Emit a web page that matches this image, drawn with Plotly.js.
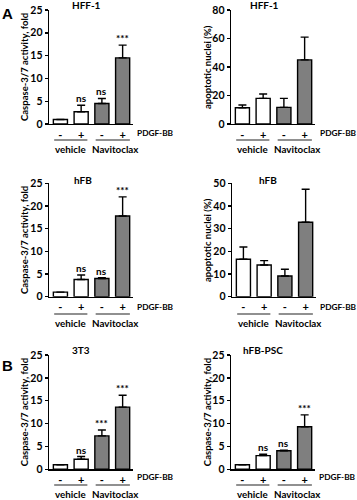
<!DOCTYPE html>
<html>
<head>
<meta charset="utf-8">
<script src="https://cdn.plot.ly/plotly-3.0.1.min.js"></script>
<style>html,body{margin:0;padding:0;background:#fff;}#chart{width:357px;height:500px;}</style>
</head>
<body>
<div id="chart"></div>
<script>
// ---- data ----
const groupTicks = ['-', '+', '-', '+'];
const treatmentLabels = ['vehicle', 'Navitoclax'];
const stimulusLabel = 'PDGF-BB';
const panelLetters = ['A', 'B'];

const titles = ['HFF-1', 'HFF-1', 'hFB', 'hFB', '3T3', 'hFB-PSC'];
const yTitles = ['Caspase-3/7 activity, fold', 'apoptotic nuclei (%)',
                 'Caspase-3/7 activity, fold', 'apoptotic nuclei (%)',
                 'Caspase-3/7 activity, fold', 'Caspase-3/7 activity, fold'];

const hff1Casp = [1.0, 2.7, 4.5, 14.5];
const hff1CaspErr = [0, 1.4, 1.1, 2.8];
const hff1CaspSig = ['', 'ns', 'ns', '***'];

const hff1Apo = [11.4, 18.0, 11.7, 45.0];
const hff1ApoErr = [1.9, 3.0, 6.3, 16.0];
const hff1ApoSig = ['', '', '', ''];

const hfbCasp = [1.0, 3.8, 4.0, 17.8];
const hfbCaspErr = [0, 1.0, 0.2, 4.2];
const hfbCaspSig = ['', 'ns', 'ns', '***'];

const hfbApo = [16.5, 14.0, 9.1, 32.8];
const hfbApoErr = [5.4, 1.9, 3.0, 14.6];
const hfbApoSig = ['', '', '', ''];

const t3Casp = [1.0, 2.2, 7.3, 13.6];
const t3CaspErr = [0, 0.6, 1.3, 2.6];
const t3CaspSig = ['', 'ns', '***', '***'];

const pscCasp = [1.0, 3.0, 4.05, 9.3];
const pscCaspErr = [0, 0.3, 0.15, 2.6];
const pscCaspSig = ['', 'ns', 'ns', '***'];

const yMax = [25, 80, 25, 50, 25, 25];
const yStep = [5, 20, 5, 10, 5, 5];

// ---- layout geometry (pixels) ----
const W = 357, H = 500;
const FONT = 'Lato, Liberation Sans, Arial, sans-serif';
const px = v => v / W;
const py = v => 1 - v / H;

const means = [hff1Casp, hff1Apo, hfbCasp, hfbApo, t3Casp, pscCasp];
const errs = [hff1CaspErr, hff1ApoErr, hfbCaspErr, hfbApoErr, t3CaspErr, pscCaspErr];
const sigs = [hff1CaspSig, hff1ApoSig, hfbCaspSig, hfbApoSig, t3CaspSig, pscCaspSig];

const xDom = [[49, 133], [231, 315], [49, 133], [232, 316], [49, 133], [231, 315]];
const rows = [[10, 124], [183.3, 296.7], [355, 469.3]];
const titleY = [5, 180, 349.5];
const titleX = [86, 264, 82.5, 267.5, 81, 263];
const yTitleX = [24, 207];
const pdgfX = [135, 318, 135, 318, 135, 317];
const tickY = [133, 306.7, 477];
const lineY = [140, 314, 485];
const treatY = [149, 322.7, 494];

const colors = ['#ffffff', '#ffffff', '#7f7f7f', '#7f7f7f'];
const xs = [0, 1, 2, 3];

const data = [];
const layout = {
  width: W, height: H,
  margin: {l: 0, r: 0, t: 0, b: 0},
  paper_bgcolor: '#fff', plot_bgcolor: '#fff',
  showlegend: false,
  annotations: [], shapes: [],
  font: {family: FONT, color: '#000', size: 10, weight: 'bold'}
};

for (let i = 0; i < 6; i++) {
  const n = i + 1;
  const xa = 'x' + n, ya = 'y' + n;
  const xk = 'xaxis' + (n === 1 ? '' : n), yk = 'yaxis' + (n === 1 ? '' : n);
  const r = Math.floor(i / 2), c = i % 2;
  data.push({
    type: 'bar', x: xs, y: means[i], xaxis: xa, yaxis: ya,
    width: 0.68,
    marker: {color: colors, line: {color: '#000', width: 1.4}},
    error_y: {type: 'data', symmetric: false, array: errs[i], arrayminus: [0, 0, 0, 0],
              color: '#000', thickness: 1.4, width: 4},
    hoverinfo: 'none'
  });
  layout[xk] = {
    domain: [px(xDom[i][0]), px(xDom[i][1])],
    range: [-0.55, 3.5], anchor: ya,
    showline: true, linecolor: '#000', linewidth: 1.4,
    showgrid: false, zeroline: false, ticks: '',
    tickvals: xs, ticktext: groupTicks,
    tickfont: {family: FONT, size: 11, weight: 'bold', color: '#000'},
    fixedrange: true
  };
  layout[yk] = {
    domain: [py(rows[r][1]), py(rows[r][0])],
    range: [0, yMax[i]], anchor: xa,
    dtick: yStep[i], tick0: 0,
    showline: true, linecolor: '#000', linewidth: 1.4,
    ticks: 'outside', ticklen: 3, tickwidth: 1.4, tickcolor: '#000',
    showgrid: false, zeroline: false,
    tickfont: {family: FONT, size: 10.5, weight: 'bold', color: '#000'},
    fixedrange: true
  };
  for (let k = 0; k < 4; k++) {
    if (sigs[i][k]) {
      layout.annotations.push({
        xref: xa, yref: ya, x: xs[k], y: means[i][k] + errs[i][k],
        text: sigs[i][k], showarrow: false, yanchor: 'bottom', xanchor: 'center',
        yshift: -1, font: {family: FONT, size: 10, weight: 'bold'}
      });
    }
  }
  layout.annotations.push({
    xref: 'paper', yref: 'paper', x: px(titleX[i]), y: py(titleY[r]),
    text: titles[i], showarrow: false, xanchor: 'center', yanchor: 'middle',
    font: {family: FONT, size: 10, weight: 'bold'}
  });
  layout.annotations.push({
    xref: 'paper', yref: 'paper', x: px(yTitleX[c]), y: py((rows[r][0] + rows[r][1]) / 2),
    text: yTitles[i], showarrow: false, textangle: -90, xanchor: 'center', yanchor: 'middle',
    font: {family: FONT, size: 9.5, weight: 'bold'}
  });
  layout.annotations.push({
    xref: 'paper', yref: 'paper', x: px(pdgfX[i]), y: py(tickY[r]),
    text: stimulusLabel, showarrow: false, xanchor: 'left', yanchor: 'middle',
    font: {family: FONT, size: 8.3, weight: 'bold'}
  });
  const spans = [[-0.3, 1.3], [1.7, 3.35]];
  for (let g = 0; g < 2; g++) {
    layout.shapes.push({
      type: 'line', xref: xa, yref: 'paper',
      x0: spans[g][0], x1: spans[g][1], y0: py(lineY[r]), y1: py(lineY[r]),
      line: {color: '#222', width: 1.2}
    });
    layout.annotations.push({
      xref: xa, yref: 'paper', x: g === 0 ? 0.5 : 2.65, y: py(treatY[r]),
      text: treatmentLabels[g], showarrow: false, xanchor: 'center', yanchor: 'middle',
      font: {family: FONT, size: 9.8, weight: 'bold'}
    });
  }
}
layout.annotations.push({xref: 'paper', yref: 'paper', x: px(7.5), y: py(13), text: panelLetters[0],
  showarrow: false, xanchor: 'center', yanchor: 'middle', font: {family: 'Liberation Sans, Arial', size: 15, weight: 'bold'}});
layout.annotations.push({xref: 'paper', yref: 'paper', x: px(7.5), y: py(365), text: panelLetters[1],
  showarrow: false, xanchor: 'center', yanchor: 'middle', font: {family: 'Liberation Sans, Arial', size: 15, weight: 'bold'}});

Plotly.newPlot('chart', data, layout, {staticPlot: true, displayModeBar: false});
</script>
</body>
</html>
